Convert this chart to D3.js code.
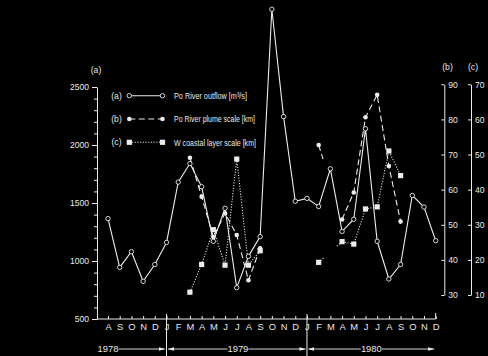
<!DOCTYPE html>
<html>
<head>
<meta charset="utf-8">
<script src="https://cdn.jsdelivr.net/npm/d3@7"></script>
<style>
  html, body { margin: 0; padding: 0; background: #000; }
  svg { display: block; }
  text { font-family: "Liberation Sans Narrow", "Arial Narrow", "Liberation Sans", Arial, sans-serif; fill: #e8e8e8; }
</style>
</head>
<body>
<svg id="chart" width="488" height="356"></svg>
<script>
// Monthly labels, Aug 1978 – Dec 1980
const months = ["A","S","O","N","D","J","F","M","A","M","J","J","A","S","O","N","D",
                "J","F","M","A","M","J","J","A","S","O","N","D"];
// (a) Po River outflow [m3/s]
const outflow = [1365, 945, 1080, 825, 970, 1160, 1680, 1840, 1640, 1170, 1455, 770, 1040, 1210,
                 3170, 2245, 1515, 1540, 1470, 1795, 1255, 1360, 2140, 1170, 845, 970, 1565, 1465, 1175];
// (b) Po River plume scale [km]
const plumeScale = [null, null, null, null, null, null, null, 69.1, 58.0, 46.5, 53.3, 47.1, 34.2, 43.3,
                    null, null, null, null, 72.7, null, 51.5, 59.2, 80.6, 87.0, 66.7, 50.9, null, null, null];
// (c) W coastal layer scale [km]
const coastalScale = [null, null, null, null, null, null, null, 10.8, 18.7, 28.6, 18.5, 48.7, 18.5, 22.6,
                      null, null, null, null, 19.3, null, 25.2, 24.5, 34.5, 35.1, 51.0, 44.0, null, null, null];
const years = ["1978", "1979", "1980"];
const outflowTicks = [500, 1000, 1500, 2000, 2500];
const plumeTicks = [30, 40, 50, 60, 70, 80, 90];
const coastalTicks = [10, 20, 30, 40, 50, 60, 70];
const legendLabels = ["Po River  outflow [m\u00b3/s]", "Po River plume scale  [km]", "W coastal layer scale  [km]"];

const ink = "#ececec";
const svg = d3.select("#chart");

const x = d3.scaleLinear().domain([0, months.length - 1]).range([108, 435.7]);
const yA = d3.scaleLinear().domain([500, 2500]).range([319, 87]);
const yB = d3.scaleLinear().domain([30, 90]).range([295, 84.3]);
const yC = d3.scaleLinear().domain([10, 70]).range([295, 84.3]);

function styleAxis(g) {
  g.selectAll("path, line").attr("stroke", ink).attr("stroke-width", 1);
  g.selectAll("text").attr("fill", ink);
}

// Left axis: majors every 500, minors every 100
svg.append("g").attr("transform", "translate(97,0)")
  .call(d3.axisLeft(yA).tickValues(d3.range(500, 2501, 100)).tickSize(3).tickSizeOuter(0).tickFormat(""))
  .call(styleAxis);
svg.append("g").attr("transform", "translate(97,0)")
  .call(d3.axisLeft(yA).tickValues(outflowTicks).tickSize(5).tickPadding(3).tickSizeOuter(0).tickFormat(d3.format("d")))
  .call(g => g.select(".domain").remove())
  .call(styleAxis)
  .call(g => g.selectAll("text").attr("font-size", 8.6));

// Right axes (b) and (c): ticks inward, labels outward
svg.append("g").attr("transform", "translate(444.3,0)")
  .call(d3.axisRight(yB).tickValues(plumeTicks).tickSize(-3).tickPadding(4).tickSizeOuter(0))
  .call(styleAxis).call(g => g.selectAll("text").attr("font-size", 8.6));
svg.append("g").attr("transform", "translate(471,0)")
  .call(d3.axisRight(yC).tickValues(coastalTicks).tickSize(-3).tickPadding(4).tickSizeOuter(0))
  .call(styleAxis).call(g => g.selectAll("text").attr("font-size", 8.6));

// Axis captions
svg.append("text").attr("x", 96).attr("y", 73).attr("text-anchor", "middle").attr("font-size", 8.6).text("(a)");
svg.append("text").attr("x", 447.5).attr("y", 70).attr("text-anchor", "middle").attr("font-size", 8.6).text("(b)");
svg.append("text").attr("x", 473).attr("y", 70).attr("text-anchor", "middle").attr("font-size", 8.6).text("(c)");

// Bottom time axis
const xAxisG = svg.append("g").attr("transform", "translate(0,319)")
  .call(d3.axisBottom(x).tickValues(d3.range(months.length)).tickSize(-3).tickPadding(4)
    .tickSizeOuter(0).tickFormat(i => months[i]))
  .call(styleAxis)
  .call(g => g.selectAll("text").attr("font-size", 9.4));
xAxisG.select(".domain").attr("d", `M${97},0H${x(months.length - 1)}`);

// Year boundaries (January) and the end of the record
const janIdx = months.map((m, i) => (m === "J" && i > 0 && months[i - 1] === "D") ? i : -1).filter(i => i >= 0);
janIdx.forEach(i => {
  svg.append("line").attr("x1", x(i)).attr("x2", x(i)).attr("y1", 314).attr("y2", 356)
    .attr("stroke", ink).attr("stroke-width", 1);
});
svg.append("line").attr("x1", x(months.length - 1)).attr("x2", x(months.length - 1))
  .attr("y1", 313).attr("y2", 319).attr("stroke", ink);

// Year arrows
const defs = svg.append("defs");
defs.append("marker").attr("id", "head").attr("viewBox", "0 0 10 6").attr("refX", 10).attr("refY", 3)
  .attr("markerWidth", 6).attr("markerHeight", 3.6).attr("markerUnits", "userSpaceOnUse").attr("orient", "auto")
  .append("path").attr("d", "M0,0L10,3L0,6Z").attr("fill", ink);

const yearY = 352, arrowY = 349;
const yearPos = [x(0), x(11.1), x(22.5)];
const bounds = [x(0) - 12, x(janIdx[0]), x(janIdx[1]), x(months.length - 1)];
years.forEach((yr, k) => {
  svg.append("text").attr("x", yearPos[k]).attr("y", yearY).attr("text-anchor", "middle")
    .attr("font-size", 9.4).text(yr);
  const half = 8.5;
  if (k > 0) {
    svg.append("line").attr("x1", yearPos[k] - half - 2).attr("x2", bounds[k] + 1.5)
      .attr("y1", arrowY).attr("y2", arrowY).attr("stroke", ink).attr("stroke-width", 0.9)
      .attr("marker-end", "url(#head)");
  }
  svg.append("line").attr("x1", yearPos[k] + half + 2).attr("x2", bounds[k + 1] - 1.5)
    .attr("y1", arrowY).attr("y2", arrowY).attr("stroke", ink).attr("stroke-width", 0.9)
    .attr("marker-end", "url(#head)");
});

// Series drawing
const series = [
  { values: outflow, y: yA, dash: null, marker: "open" },
  { values: plumeScale, y: yB, dash: "6,3.5", marker: "dot", stubs: [0.19, 0] },
  { values: coastalScale, y: yC, dash: "1.1,1.6", marker: "square", stubs: [0.23, 0.22] }
];

series.forEach(s => {
  const pts = s.values.map((v, i) => v == null ? null : [x(i), s.y(v)]);
  const line = d3.line().defined(p => p != null);
  svg.append("path").attr("d", line(pts)).attr("fill", "none").attr("stroke", ink)
    .attr("stroke-width", 1.1).attr("stroke-dasharray", s.dash);
  // short stubs across a single missing month
  if (s.stubs) {
    for (let i = 1; i < pts.length - 1; i++) {
      if (pts[i] == null && pts[i - 1] && pts[i + 1]) {
        const p0 = pts[i - 1], p1 = pts[i + 1];
        const lerp = d3.interpolateArray(p0, p1);
        if (s.stubs[0] > 0) svg.append("path").attr("d", d3.line()([p0, lerp(s.stubs[0])]))
          .attr("stroke", ink).attr("stroke-width", 1.1).attr("stroke-dasharray", s.dash);
        if (s.stubs[1] > 0) svg.append("path").attr("d", d3.line()([lerp(1 - s.stubs[1]), p1]))
          .attr("stroke", ink).attr("stroke-width", 1.1).attr("stroke-dasharray", s.dash);
      }
    }
  }
  s.pts = pts.filter(p => p != null);
});

function drawMarker(g, kind, px, py) {
  if (kind === "open") {
    g.append("circle").attr("cx", px).attr("cy", py).attr("r", 2.2)
      .attr("fill", "#000").attr("stroke", ink).attr("stroke-width", 0.9);
  } else if (kind === "dot") {
    g.append("circle").attr("cx", px).attr("cy", py).attr("r", 2.3).attr("fill", ink);
  } else {
    g.append("rect").attr("x", px - 2.6).attr("y", py - 2.6).attr("width", 5.2).attr("height", 5.2).attr("fill", ink);
  }
}
const markG = svg.append("g");
series.forEach(s => s.pts.forEach(p => drawMarker(markG, s.marker, p[0], p[1])));

// Legend
const legG = svg.append("g");
const legRows = [95.7, 119, 142.3];
const legWidths = [73, 81, 82];
series.forEach((s, k) => {
  const ly = legRows[k];
  legG.append("text").attr("x", 116.5).attr("y", ly + 3).attr("text-anchor", "middle")
    .attr("font-size", 8.6).text(["(a)", "(b)", "(c)"][k]);
  legG.append("line").attr("x1", 129.3).attr("x2", 162.5).attr("y1", ly).attr("y2", ly)
    .attr("stroke", ink).attr("stroke-width", 1.1).attr("stroke-dasharray", s.dash);
  drawMarker(legG, s.marker, 129.3, ly);
  drawMarker(legG, s.marker, 162.5, ly);
  legG.append("text").attr("x", 174).attr("y", ly + 3.2).attr("font-size", 9.4)
    .attr("textLength", legWidths[k]).attr("lengthAdjust", "spacingAndGlyphs").text(legendLabels[k]);
});
</script>
</body>
</html>
